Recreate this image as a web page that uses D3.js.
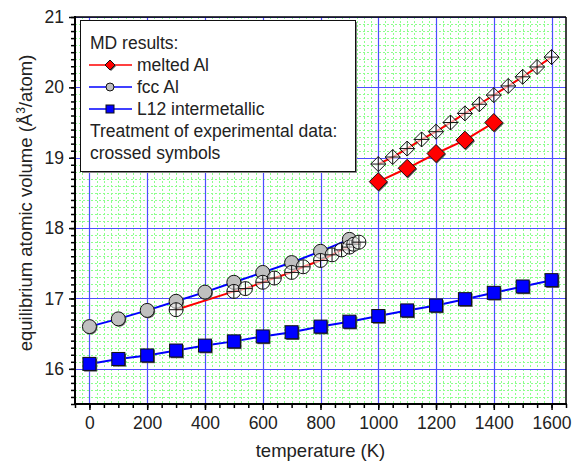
<!DOCTYPE html>
<html>
<head>
<meta charset="utf-8">
<title>Equilibrium atomic volume</title>
<script src="https://cdnjs.cloudflare.com/ajax/libs/d3/7.8.5/d3.min.js"></script>
<style>
  body { margin: 0; background: #fff; }
  text { font-family: "Liberation Sans", Arial, sans-serif; }
</style>
</head>
<body>
<script>
// data
var l12T = [0, 100, 200, 300, 400, 500, 600, 700, 800, 900, 1000, 1100, 1200, 1300, 1400, 1500, 1600];
var l12V = [16.07, 16.14, 16.19, 16.26, 16.33, 16.39, 16.46, 16.52, 16.60, 16.67, 16.75, 16.83, 16.90, 16.99, 17.08, 17.17, 17.26];

var fccT = [0, 100, 200, 300, 400, 500, 600, 700, 800, 900];
var fccV = [16.60, 16.71, 16.83, 16.96, 17.09, 17.23, 17.37, 17.51, 17.67, 17.84];

var fccExpT = [300, 500, 540, 600, 640, 700, 740, 800, 840, 873, 900, 915, 933];
var fccExpV = [16.84, 17.10, 17.14, 17.23, 17.29, 17.37, 17.45, 17.54, 17.62, 17.69, 17.73, 17.77, 17.80];

var liqT = [1000, 1100, 1200, 1300, 1400];
var liqV = [18.66, 18.85, 19.06, 19.25, 19.50];

var liqExpT = [1000, 1050, 1100, 1150, 1200, 1250, 1300, 1350, 1400, 1450, 1500, 1550, 1600];
var liqExpV = [18.91, 19.01, 19.13, 19.26, 19.37, 19.50, 19.63, 19.76, 19.89, 20.02, 20.15, 20.29, 20.43];

var xMajor = [0, 200, 400, 600, 800, 1000, 1200, 1400, 1600];
var yMajor = [16, 17, 18, 19, 20, 21];

var legendRows = ["MD results:", "melted Al", "fcc Al", "L12 intermetallic",
                  "Treatment of experimental data:", "crossed symbols"];

var w = 572, h = 467;
var pLeft = 75, pRight = 566, pTop = 17, pBottom = 404;

var x = d3.scaleLinear().domain([-50, 1650]).range([pLeft, pRight]);
var y = d3.scaleLinear().domain([15.5, 21]).range([pBottom, pTop]);

var svg = d3.select("body").append("svg").attr("width", w).attr("height", h);

function zip(a, b) { return a.map(function(d, i) { return [d, b[i]]; }); }

// minor grid (green dashed)
var xMinor = d3.range(-25, 1650, 25);
var yMinor = d3.range(156, 210, 1).map(function(d) { return d / 10; });
var grid = svg.append("g");
grid.selectAll(".gx").data(xMinor).enter().append("line")
  .attr("x1", function(d) { return Math.round(x(d)) + 0.5; })
  .attr("x2", function(d) { return Math.round(x(d)) + 0.5; })
  .attr("y1", pTop).attr("y2", pBottom)
  .attr("stroke", "#8cff8c").attr("stroke-width", 1).attr("stroke-dasharray", "2,2");
grid.selectAll(".gy").data(yMinor).enter().append("line")
  .attr("y1", function(d) { return Math.round(y(d)) + 0.5; })
  .attr("y2", function(d) { return Math.round(y(d)) + 0.5; })
  .attr("x1", pLeft).attr("x2", pRight)
  .attr("stroke", "#8cff8c").attr("stroke-width", 1).attr("stroke-dasharray", "2,2");

// major grid (blue)
grid.selectAll(".mx").data(xMajor).enter().append("line")
  .attr("x1", function(d) { return Math.round(x(d)) + 0.5; })
  .attr("x2", function(d) { return Math.round(x(d)) + 0.5; })
  .attr("y1", pTop).attr("y2", pBottom)
  .attr("stroke", "#4d4dff").attr("stroke-width", 1.2);
grid.selectAll(".my").data(yMajor).enter().append("line")
  .attr("y1", function(d) { return Math.round(y(d)) + 0.5; })
  .attr("y2", function(d) { return Math.round(y(d)) + 0.5; })
  .attr("x1", pLeft).attr("x2", pRight)
  .attr("stroke", "#4d4dff").attr("stroke-width", 1.2);

// axes
var xMinorAxis = d3.axisBottom(x).tickValues(d3.range(-50, 1651, 50)).tickSize(4).tickFormat("");
var yMinorAxis = d3.axisLeft(y).tickValues(d3.range(155, 211, 1).map(function(d) { return d / 10; })).tickSize(4).tickFormat("");
var xAxis = d3.axisBottom(x).tickValues(xMajor).tickSize(6).tickPadding(7).tickFormat(d3.format("d"));
var yAxis = d3.axisLeft(y).tickValues(yMajor).tickSize(6).tickPadding(5).tickFormat(d3.format("d"));

svg.append("g").attr("transform", "translate(0," + pBottom + ")").call(xMinorAxis);
svg.append("g").attr("transform", "translate(" + pLeft + ",0)").call(yMinorAxis);
var gx = svg.append("g").attr("transform", "translate(0," + pBottom + ")").call(xAxis);
var gy = svg.append("g").attr("transform", "translate(" + pLeft + ",0)").call(yAxis);
svg.selectAll(".domain").remove();
svg.selectAll(".tick line").attr("stroke", "#000").attr("stroke-width", 1.5);
gx.selectAll("text").attr("font-size", 17.5).attr("fill", "#222");
gy.selectAll("text").attr("font-size", 17.5).attr("fill", "#222");

// frame
svg.append("line").attr("x1", pLeft).attr("x2", pLeft).attr("y1", pTop - 1).attr("y2", pBottom + 1)
  .attr("stroke", "#000").attr("stroke-width", 2);
svg.append("line").attr("x1", pLeft - 1).attr("x2", pRight + 1).attr("y1", pBottom).attr("y2", pBottom)
  .attr("stroke", "#000").attr("stroke-width", 2);
svg.append("line").attr("x1", pLeft).attr("x2", pRight).attr("y1", pTop).attr("y2", pTop)
  .attr("stroke", "#000").attr("stroke-width", 1.5);
svg.append("line").attr("x1", pRight).attr("x2", pRight).attr("y1", pTop).attr("y2", pBottom)
  .attr("stroke", "#000").attr("stroke-width", 1.5);

// lines
var line = d3.line().x(function(d) { return x(d[0]); }).y(function(d) { return y(d[1]); });
var plot = svg.append("g");
plot.append("path").datum(zip(fccExpT, fccExpV)).attr("d", line)
  .attr("fill", "none").attr("stroke", "#ff0000").attr("stroke-width", 2);
plot.append("path").datum(zip(fccT, fccV)).attr("d", line)
  .attr("fill", "none").attr("stroke", "#0000ff").attr("stroke-width", 2);
plot.append("path").datum(zip(l12T, l12V)).attr("d", line)
  .attr("fill", "none").attr("stroke", "#0000ff").attr("stroke-width", 2);
plot.append("path").datum(zip(liqExpT, liqExpV)).attr("d", line)
  .attr("fill", "none").attr("stroke", "#ff0000").attr("stroke-width", 2);
plot.append("path").datum(zip(liqT, liqV)).attr("d", line)
  .attr("fill", "none").attr("stroke", "#ff0000").attr("stroke-width", 2);

// markers
function square(g, cx, cy, s) {
  g.append("rect").attr("x", cx - s / 2 + 1.2).attr("y", cy - s / 2 + 1.2).attr("width", s).attr("height", s)
    .attr("fill", "#555");
  g.append("rect").attr("x", cx - s / 2).attr("y", cy - s / 2).attr("width", s).attr("height", s)
    .attr("fill", "#0000ff").attr("stroke", "#111").attr("stroke-width", 1);
}
function circle(g, cx, cy, r) {
  g.append("circle").attr("cx", cx + 1).attr("cy", cy + 1).attr("r", r).attr("fill", "#666");
  g.append("circle").attr("cx", cx).attr("cy", cy).attr("r", r)
    .attr("fill", "#c0c0c0").attr("stroke", "#111").attr("stroke-width", 1);
}
function diamond(g, cx, cy, r, fill, crossed) {
  var pts = [[cx, cy - r], [cx + r, cy], [cx, cy + r], [cx - r, cy]];
  if (!crossed) {
    g.append("polygon").attr("points", pts.map(function(p) { return (p[0] + 1) + "," + (p[1] + 1); }).join(" "))
      .attr("fill", "#555");
  }
  g.append("polygon").attr("points", pts.map(function(p) { return p.join(","); }).join(" "))
    .attr("fill", fill).attr("stroke", "#111").attr("stroke-width", 1);
  if (crossed) {
    g.append("line").attr("x1", cx - r).attr("x2", cx + r).attr("y1", cy).attr("y2", cy)
      .attr("stroke", "#111").attr("stroke-width", 1);
    g.append("line").attr("x1", cx).attr("x2", cx).attr("y1", cy - r).attr("y2", cy + r)
      .attr("stroke", "#111").attr("stroke-width", 1);
  }
}
function crossCircle(g, cx, cy, r) {
  g.append("circle").attr("cx", cx).attr("cy", cy).attr("r", r)
    .attr("fill", "rgba(255,255,255,0.55)").attr("stroke", "#111").attr("stroke-width", 1);
  g.append("line").attr("x1", cx - r).attr("x2", cx + r).attr("y1", cy).attr("y2", cy)
    .attr("stroke", "#111").attr("stroke-width", 1);
  g.append("line").attr("x1", cx).attr("x2", cx).attr("y1", cy - r).attr("y2", cy + r)
    .attr("stroke", "#111").attr("stroke-width", 1);
}

var marks = svg.append("g");
zip(l12T, l12V).forEach(function(d) { square(marks, x(d[0]), y(d[1]), 13); });
zip(fccT, fccV).forEach(function(d) { circle(marks, x(d[0]), y(d[1]), 7); });
zip(fccExpT, fccExpV).forEach(function(d) { crossCircle(marks, x(d[0]), y(d[1]), 7); });
zip(liqT, liqV).forEach(function(d) { diamond(marks, x(d[0]), y(d[1]), 9, "#ff0000", false); });
zip(liqExpT, liqExpV).forEach(function(d) { diamond(marks, x(d[0]), y(d[1]), 7.5, "rgba(255,255,255,0.6)", true); });

// legend
var lg = svg.append("g");
lg.append("rect").attr("x", 82).attr("y", 22).attr("width", 275).attr("height", 151).attr("fill", "#888");
lg.append("rect").attr("x", 80.5).attr("y", 20.5).attr("width", 275).attr("height", 151)
  .attr("fill", "#fff").attr("stroke", "#111").attr("stroke-width", 1);
legendRows.forEach(function(t, i) {
  var by = 49 + i * 22;
  var tx = (i >= 1 && i <= 3) ? 137 : 90;
  lg.append("text").attr("x", tx).attr("y", by).attr("font-size", 17.5).attr("fill", "#222").text(t);
});
var sy = [65, 87, 109];
var lcol = ["#ff0000", "#0000ff", "#0000ff"];
sy.forEach(function(yy, i) {
  lg.append("line").attr("x1", 89).attr("x2", 132).attr("y1", yy).attr("y2", yy)
    .attr("stroke", lcol[i]).attr("stroke-width", 1.5);
});
diamond(lg, 110, sy[0], 5, "#ff0000", false);
lg.append("circle").attr("cx", 110).attr("cy", sy[1]).attr("r", 4).attr("fill", "#c0c0c0").attr("stroke", "#111");
lg.append("rect").attr("x", 106).attr("y", sy[2] - 4).attr("width", 8).attr("height", 8)
  .attr("fill", "#0000ff").attr("stroke", "#111");

// axis titles
svg.append("text").attr("x", (pLeft + pRight) / 2).attr("y", 457).attr("text-anchor", "middle")
  .attr("font-size", 18.5).attr("fill", "#222").text("temperature (K)");
var yt = svg.append("text").attr("transform", "translate(32,203) rotate(-90)")
  .attr("text-anchor", "middle").attr("font-size", 18.5).attr("fill", "#222");
yt.append("tspan").text("equilibrium atomic volume (Å");
yt.append("tspan").attr("dy", -7).attr("font-size", 12).text("3");
yt.append("tspan").attr("dy", 7).text("/atom)");
</script>
</body>
</html>
